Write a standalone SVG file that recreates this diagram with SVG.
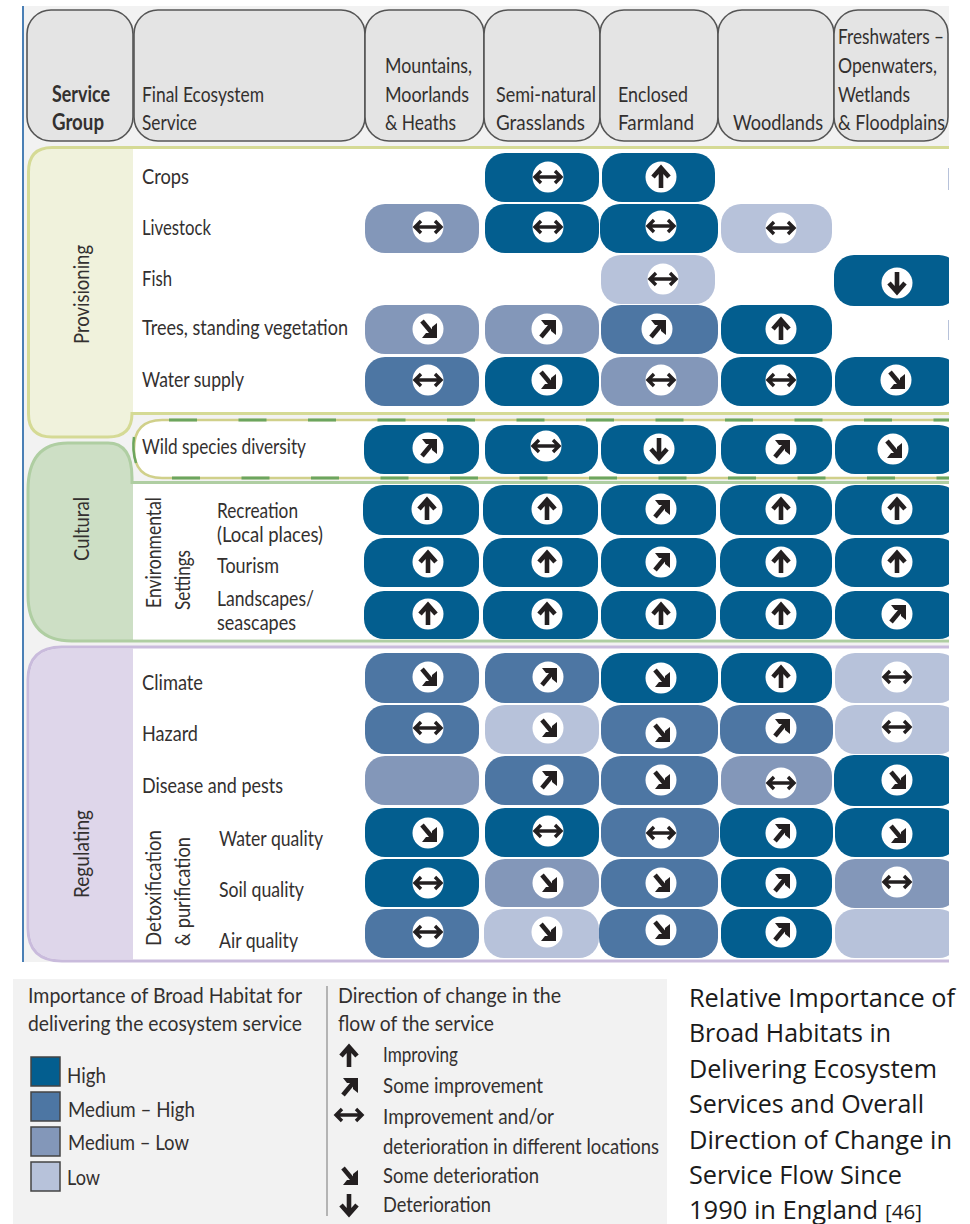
<svg xmlns="http://www.w3.org/2000/svg" width="970" height="1224" viewBox="0 0 970 1224">
<style>
text{font-family:"Lato","Liberation Sans",sans-serif;font-size:22px;fill:#33302f}
.b{font-weight:700}
.cap{font-family:"Open Sans","Noto Sans",sans-serif;font-size:25px;fill:#1a1a1a}
.hd{fill:#e4e4e4;stroke:#555;stroke-width:1.6}
.h{fill:#035e8f}.mh{fill:#4d76a3}.ml{fill:#8397b9}.l{fill:#b7c2da}
.ar{fill:none;stroke:#231f20;stroke-width:4.6}
.ar2{fill:none;stroke:#231f20;stroke-width:3.4}
.sw{stroke:#444;stroke-width:1.5}
</style>
<defs>
<g id="a-up"><path class="ar" d="M0 11V-8M-8 0L0-9L8 0"/></g>
<g id="a-dn"><path class="ar" d="M0-11V8M-8 0L0 9L8 0"/></g>
<g id="a-ne"><path class="ar" d="M-6 8L4-4"/><path d="M-6-9H9V6L4 2V-4H-2Z" fill="#231f20"/></g>
<g id="a-se"><path class="ar" d="M-6-8L4 4"/><path d="M-6 9H9V-6L4-2V4H-2Z" fill="#231f20"/></g>
<g id="a-lr"><path class="ar2" d="M-13 0H13M-7-6L-13 0L-7 6M7-6L13 0L7 6"/></g>
<g id="up"><circle r="15.5" fill="#fff"/><use href="#a-up"/></g>
<g id="dn"><circle r="15.5" fill="#fff"/><use href="#a-dn"/></g>
<g id="ne"><circle r="15.5" fill="#fff"/><use href="#a-ne"/></g>
<g id="se"><circle r="15.5" fill="#fff"/><use href="#a-se"/></g>
<g id="lr"><circle r="15.5" fill="#fff"/><use href="#a-lr"/></g>
<clipPath id="clip"><rect x="0" y="0" width="949" height="1224"/></clipPath>
</defs>
<rect width="970" height="1224" fill="#fff"/>
<rect x="23" y="6" width="926" height="956" fill="#f2f2f2"/>
<path d="M23 6V962" stroke="#4a7fb5" stroke-width="2" fill="none"/>

<g id="header">
<g id="hd-group"><rect class="hd" x="27" y="10" width="106" height="131" rx="24"/><text class="b" x="52" y="102" textLength="58" lengthAdjust="spacingAndGlyphs">Service</text><text class="b" x="52" y="130" textLength="52" lengthAdjust="spacingAndGlyphs">Group</text></g>
<g id="hd-service"><rect class="hd" x="134" y="10" width="231" height="131" rx="24"/><text x="142" y="102" textLength="122" lengthAdjust="spacingAndGlyphs">Final Ecosystem</text><text x="142" y="130" textLength="55" lengthAdjust="spacingAndGlyphs">Service</text></g>
<g id="hd-mountains"><rect class="hd" x="365" y="10" width="119" height="131" rx="24"/><text x="385" y="73" textLength="87" lengthAdjust="spacingAndGlyphs">Mountains,</text><text x="385" y="102" textLength="84" lengthAdjust="spacingAndGlyphs">Moorlands</text><text x="385" y="130" textLength="71" lengthAdjust="spacingAndGlyphs">&amp; Heaths</text></g>
<g id="hd-semi"><rect class="hd" x="484" y="10" width="116" height="131" rx="24"/><text x="496" y="102" textLength="100" lengthAdjust="spacingAndGlyphs">Semi-natural</text><text x="496" y="130" textLength="89" lengthAdjust="spacingAndGlyphs">Grasslands</text></g>
<g id="hd-enclosed"><rect class="hd" x="600" y="10" width="118" height="131" rx="24"/><text x="618" y="102" textLength="70" lengthAdjust="spacingAndGlyphs">Enclosed</text><text x="618" y="130" textLength="76" lengthAdjust="spacingAndGlyphs">Farmland</text></g>
<g id="hd-woodlands"><rect class="hd" x="718" y="10" width="116" height="131" rx="24"/><text x="733" y="130" textLength="90" lengthAdjust="spacingAndGlyphs">Woodlands</text></g>
<g id="hd-fresh"><rect class="hd" x="834" y="10" width="114" height="131" rx="24"/><text x="838" y="44" textLength="106" lengthAdjust="spacingAndGlyphs">Freshwaters –</text><text x="838" y="73" textLength="99" lengthAdjust="spacingAndGlyphs">Openwaters,</text><text x="838" y="102" textLength="72" lengthAdjust="spacingAndGlyphs">Wetlands</text><text x="838" y="130" textLength="107" lengthAdjust="spacingAndGlyphs">&amp; Floodplains</text></g>
</g>

<g id="band-provisioning">
<path d="M949 147.500H52Q28.500 147.500 28.500 172V414Q28.500 437 52 437H108Q132 437 132 413.500H949" fill="#f0f2dc" stroke="#d5da95" stroke-width="3"/>
<rect x="133" y="149" width="816" height="263" fill="#fff"/>
<text transform="translate(89 344) rotate(-90)" textLength="99" lengthAdjust="spacingAndGlyphs">Provisioning</text>
</g>
<g id="band-cultural">
<path d="M132 482V478Q132 443 108 443H68Q28 443 28 490V595Q28 641 72 641H949V482Z" fill="#cddfc5"/>
<path d="M949 641H72Q28 641 28 595V490Q28 443 68 443H108Q132 443 132 478V482.500H949" fill="none" stroke="#afcea2" stroke-width="3"/>
<rect x="133" y="484" width="816" height="155.500" fill="#fff"/>
<text transform="translate(89 561) rotate(-90)" textLength="64" lengthAdjust="spacingAndGlyphs">Cultural</text>
</g>
<g id="band-wild">
<path d="M949 420H162Q134 420 134 449Q134 478 162 478H949" fill="#fff" stroke="#d0d08a" stroke-width="2.500"/>
<path d="M134 437Q132 450 136 463" fill="none" stroke="#6ca55e" stroke-width="2.500"/>
<path d="M169 420H949" fill="none" stroke="#6ca55e" stroke-width="3" stroke-dasharray="28 41.500"/>
<path d="M172 478H949" fill="none" stroke="#6ca55e" stroke-width="3" stroke-dasharray="28 41.500"/>
</g>
<g id="band-regulating">
<path d="M949 647H62Q28 647 28 680V928Q28 961 62 961H949V647Z" fill="#fff"/>
<path d="M133 648.500H62Q29.500 648.500 29.500 680V928Q29.500 959.500 62 959.500H133Z" fill="#ded6ea"/>
<path d="M949 647H62Q28 647 28 680V928Q28 961 62 961H949" fill="none" stroke="#c9bbdc" stroke-width="3"/>
<text transform="translate(89 898) rotate(-90)" textLength="88" lengthAdjust="spacingAndGlyphs">Regulating</text>
</g>

<g id="row-labels" transform="translate(0 -1)">
<text x="142" y="185" textLength="47" lengthAdjust="spacingAndGlyphs">Crops</text>
<text x="142" y="236" textLength="69" lengthAdjust="spacingAndGlyphs">Livestock</text>
<text x="142" y="287" textLength="30" lengthAdjust="spacingAndGlyphs">Fish</text>
<text x="142" y="336" textLength="206" lengthAdjust="spacingAndGlyphs">Trees, standing vegetation</text>
<text x="142" y="388" textLength="102" lengthAdjust="spacingAndGlyphs">Water supply</text>
<text x="142" y="455" textLength="164" lengthAdjust="spacingAndGlyphs">Wild species diversity</text>
<text transform="translate(161 609) rotate(-90)" textLength="111" lengthAdjust="spacingAndGlyphs">Environmental</text>
<text transform="translate(190 611) rotate(-90)" textLength="60" lengthAdjust="spacingAndGlyphs">Settings</text>
<text x="217" y="519" textLength="81" lengthAdjust="spacingAndGlyphs">Recreation</text>
<text x="217" y="543" textLength="106" lengthAdjust="spacingAndGlyphs">(Local places)</text>
<text x="217" y="574" textLength="62" lengthAdjust="spacingAndGlyphs">Tourism</text>
<text x="217" y="607" textLength="97" lengthAdjust="spacingAndGlyphs">Landscapes/</text>
<text x="217" y="631" textLength="79" lengthAdjust="spacingAndGlyphs">seascapes</text>
<text x="142" y="691" textLength="61" lengthAdjust="spacingAndGlyphs">Climate</text>
<text x="142" y="742" textLength="56" lengthAdjust="spacingAndGlyphs">Hazard</text>
<text x="142" y="794" textLength="141" lengthAdjust="spacingAndGlyphs">Disease and pests</text>
<text transform="translate(161 947) rotate(-90)" textLength="116" lengthAdjust="spacingAndGlyphs">Detoxification</text>
<text transform="translate(190 947) rotate(-90)" textLength="109" lengthAdjust="spacingAndGlyphs">&amp; purification</text>
<text x="219" y="847" textLength="104" lengthAdjust="spacingAndGlyphs">Water quality</text>
<text x="219" y="898" textLength="85" lengthAdjust="spacingAndGlyphs">Soil quality</text>
<text x="219" y="949" textLength="79" lengthAdjust="spacingAndGlyphs">Air quality</text>
</g>

<g id="cells" clip-path="url(#clip)">
<g id="crops-semi"><rect class="h" x="485" y="153" width="114" height="49" rx="20"/><use href="#lr" x="548" y="177"/></g>
<g id="crops-encl"><rect class="h" x="602" y="153" width="113" height="49" rx="20"/><use href="#up" x="661" y="177"/></g>
<rect class="l" x="948" y="168" width="1" height="22"/>
<g id="live-mount"><rect class="ml" x="365" y="204" width="114" height="49" rx="20"/><use href="#lr" x="428" y="227"/></g>
<g id="live-semi"><rect class="h" x="485" y="204" width="114" height="49" rx="20"/><use href="#lr" x="548" y="227"/></g>
<g id="live-encl"><rect class="h" x="600" y="204" width="118" height="49" rx="20"/><use href="#lr" x="661" y="226"/></g>
<g id="live-wood"><rect class="l" x="721" y="204" width="111" height="49" rx="20"/><use href="#lr" x="781" y="228"/></g>
<g id="fish-encl"><rect class="l" x="601" y="255" width="114" height="49" rx="20"/><use href="#lr" x="663" y="279"/></g>
<g id="fish-fresh"><rect class="h" x="834" y="255" width="125" height="51" rx="20"/><use href="#dn" x="897" y="283"/></g>
<g id="trees-mount"><rect class="ml" x="365" y="305" width="114" height="49" rx="20"/><use href="#se" x="428" y="329"/></g>
<g id="trees-semi"><rect class="ml" x="485" y="305" width="114" height="49" rx="20"/><use href="#ne" x="547" y="329"/></g>
<g id="trees-encl"><rect class="mh" x="601" y="305" width="117" height="49" rx="20"/><use href="#ne" x="657" y="329"/></g>
<g id="trees-wood"><rect class="h" x="721" y="305" width="111" height="49" rx="20"/><use href="#up" x="781" y="329"/></g>
<rect class="l" x="948" y="320" width="1" height="20"/>
<g id="water-mount"><rect class="mh" x="365" y="357" width="114" height="49" rx="20"/><use href="#lr" x="428" y="380"/></g>
<g id="water-semi"><rect class="h" x="485" y="357" width="114" height="49" rx="20"/><use href="#se" x="547" y="380"/></g>
<g id="water-encl"><rect class="ml" x="601" y="357" width="117" height="49" rx="20"/><use href="#lr" x="661" y="380"/></g>
<g id="water-wood"><rect class="h" x="721" y="357" width="111" height="49" rx="20"/><use href="#lr" x="781" y="380"/></g>
<g id="water-fresh"><rect class="h" x="835" y="357" width="124" height="49" rx="20"/><use href="#se" x="896" y="380"/></g>
<g id="wild-mount"><rect class="h" x="364" y="425" width="115" height="49" rx="20"/><use href="#ne" x="428" y="448"/></g>
<g id="wild-semi"><rect class="h" x="485" y="425" width="113" height="49" rx="20"/><use href="#lr" x="546" y="446"/></g>
<g id="wild-encl"><rect class="h" x="601" y="425" width="115" height="49" rx="20"/><use href="#dn" x="659" y="449"/></g>
<g id="wild-wood"><rect class="h" x="721" y="425" width="111" height="49" rx="20"/><use href="#ne" x="781" y="449"/></g>
<g id="wild-fresh"><rect class="h" x="835" y="425" width="124" height="49" rx="20"/><use href="#se" x="893" y="449"/></g>
<g id="rec-mount"><rect class="h" x="363" y="485" width="116" height="50" rx="20"/><use href="#up" x="427" y="509"/></g>
<g id="rec-semi"><rect class="h" x="483" y="485" width="115" height="50" rx="20"/><use href="#up" x="547" y="509"/></g>
<g id="rec-encl"><rect class="h" x="601" y="485" width="115" height="50" rx="20"/><use href="#ne" x="661" y="509"/></g>
<g id="rec-wood"><rect class="h" x="720" y="485" width="112" height="50" rx="20"/><use href="#up" x="781" y="509"/></g>
<g id="rec-fresh"><rect class="h" x="835" y="485" width="124" height="50" rx="20"/><use href="#up" x="897" y="509"/></g>
<g id="tour-mount"><rect class="h" x="364" y="538" width="115" height="49" rx="20"/><use href="#up" x="428" y="562"/></g>
<g id="tour-semi"><rect class="h" x="483" y="538" width="115" height="49" rx="20"/><use href="#up" x="547" y="562"/></g>
<g id="tour-encl"><rect class="h" x="601" y="538" width="115" height="49" rx="20"/><use href="#ne" x="661" y="562"/></g>
<g id="tour-wood"><rect class="h" x="720" y="538" width="112" height="49" rx="20"/><use href="#up" x="781" y="562"/></g>
<g id="tour-fresh"><rect class="h" x="835" y="538" width="124" height="49" rx="20"/><use href="#up" x="897" y="562"/></g>
<g id="land-mount"><rect class="h" x="364" y="591" width="115" height="48" rx="20"/><use href="#up" x="428" y="614"/></g>
<g id="land-semi"><rect class="h" x="483" y="591" width="115" height="48" rx="20"/><use href="#up" x="547" y="614"/></g>
<g id="land-encl"><rect class="h" x="601" y="591" width="115" height="48" rx="20"/><use href="#up" x="661" y="614"/></g>
<g id="land-wood"><rect class="h" x="720" y="591" width="112" height="48" rx="20"/><use href="#up" x="781" y="614"/></g>
<g id="land-fresh"><rect class="h" x="835" y="591" width="124" height="48" rx="20"/><use href="#ne" x="897" y="614"/></g>
<g id="clim-mount"><rect class="mh" x="365" y="653" width="114" height="50" rx="20"/><use href="#se" x="428" y="677"/></g>
<g id="clim-semi"><rect class="mh" x="485" y="653" width="114" height="50" rx="20"/><use href="#ne" x="548" y="677"/></g>
<g id="clim-encl"><rect class="h" x="601" y="653" width="117" height="50" rx="20"/><use href="#se" x="661" y="678"/></g>
<g id="clim-wood"><rect class="h" x="721" y="653" width="111" height="50" rx="20"/><use href="#up" x="781" y="677"/></g>
<g id="clim-fresh"><rect class="l" x="835" y="653" width="124" height="50" rx="20"/><use href="#lr" x="897" y="677"/></g>
<g id="haz-mount"><rect class="mh" x="365" y="705" width="114" height="49" rx="20"/><use href="#lr" x="428" y="728"/></g>
<g id="haz-semi"><rect class="l" x="485" y="705" width="114" height="49" rx="20"/><use href="#se" x="548" y="728"/></g>
<g id="haz-encl"><rect class="mh" x="601" y="705" width="117" height="49" rx="20"/><use href="#se" x="661" y="733"/></g>
<g id="haz-wood"><rect class="mh" x="720" y="705" width="113" height="49" rx="20"/><use href="#ne" x="781" y="728"/></g>
<g id="haz-fresh"><rect class="l" x="835" y="705" width="124" height="49" rx="20"/><use href="#lr" x="897" y="727"/></g>
<g id="dis-mount"><rect class="ml" x="365" y="756" width="114" height="49" rx="20"/></g>
<g id="dis-semi"><rect class="mh" x="485" y="756" width="114" height="49" rx="20"/><use href="#ne" x="548" y="780"/></g>
<g id="dis-encl"><rect class="mh" x="601" y="756" width="117" height="49" rx="20"/><use href="#se" x="661" y="780"/></g>
<g id="dis-wood"><rect class="ml" x="721" y="756" width="111" height="49" rx="20"/><use href="#lr" x="781" y="783"/></g>
<g id="dis-fresh"><rect class="h" x="834" y="755" width="125" height="51" rx="20"/><use href="#se" x="897" y="780"/></g>
<g id="wq-mount"><rect class="h" x="365" y="808" width="114" height="49" rx="20"/><use href="#se" x="428" y="833"/></g>
<g id="wq-semi"><rect class="h" x="485" y="808" width="114" height="49" rx="20"/><use href="#lr" x="548" y="831"/></g>
<g id="wq-encl"><rect class="mh" x="601" y="808" width="118" height="49" rx="20"/><use href="#lr" x="661" y="833"/></g>
<g id="wq-wood"><rect class="h" x="720" y="808" width="113" height="49" rx="20"/><use href="#ne" x="781" y="833"/></g>
<g id="wq-fresh"><rect class="h" x="835" y="808" width="124" height="49" rx="20"/><use href="#se" x="897" y="834"/></g>
<g id="sq-mount"><rect class="h" x="365" y="859" width="114" height="48" rx="20"/><use href="#lr" x="428" y="883"/></g>
<g id="sq-semi"><rect class="ml" x="485" y="859" width="114" height="48" rx="20"/><use href="#se" x="548" y="883"/></g>
<g id="sq-encl"><rect class="mh" x="601" y="859" width="117" height="48" rx="20"/><use href="#se" x="661" y="883"/></g>
<g id="sq-wood"><rect class="h" x="721" y="859" width="111" height="48" rx="20"/><use href="#ne" x="781" y="883"/></g>
<g id="sq-fresh"><rect class="ml" x="835" y="859" width="124" height="49" rx="20"/><use href="#lr" x="897" y="882"/></g>
<g id="aq-mount"><rect class="mh" x="365" y="909" width="114" height="49" rx="20"/><use href="#lr" x="428" y="932"/></g>
<g id="aq-semi"><rect class="l" x="484" y="909" width="115" height="49" rx="20"/><use href="#se" x="547" y="932"/></g>
<g id="aq-encl"><rect class="mh" x="599" y="909" width="119" height="49" rx="20"/><use href="#se" x="661" y="930"/></g>
<g id="aq-wood"><rect class="h" x="721" y="909" width="111" height="49" rx="20"/><use href="#ne" x="781" y="932"/></g>
<g id="aq-fresh"><rect class="l" x="835" y="909" width="124" height="49" rx="20"/></g>
</g>

<g id="legend">
<rect x="13" y="979" width="654" height="245" fill="#f2f2f2"/>
<text x="28" y="1003" textLength="274" lengthAdjust="spacingAndGlyphs">Importance of Broad Habitat for</text>
<text x="28" y="1031" textLength="274" lengthAdjust="spacingAndGlyphs">delivering the ecosystem service</text>
<rect class="sw h" x="31" y="1057" width="29" height="29"/>
<rect class="sw mh" x="31" y="1092" width="29" height="29"/>
<rect class="sw ml" x="31" y="1127" width="29" height="29"/>
<rect class="sw l" x="31" y="1162" width="29" height="29"/>
<text x="67" y="1083" textLength="39" lengthAdjust="spacingAndGlyphs">High</text>
<text x="68" y="1117" textLength="127" lengthAdjust="spacingAndGlyphs">Medium – High</text>
<text x="68" y="1150" textLength="121" lengthAdjust="spacingAndGlyphs">Medium – Low</text>
<text x="67" y="1185" textLength="33" lengthAdjust="spacingAndGlyphs">Low</text>
<path d="M327 986V1216" stroke="#777" stroke-width="1" fill="none"/>
<text x="338" y="1003" textLength="223" lengthAdjust="spacingAndGlyphs">Direction of change in the</text>
<text x="338" y="1031" textLength="156" lengthAdjust="spacingAndGlyphs">flow of the service</text>
<use href="#a-up" x="349" y="1056"/>
<use href="#a-ne" x="349" y="1087"/>
<use href="#a-lr" x="349" y="1115"/>
<use href="#a-se" x="349" y="1176"/>
<use href="#a-dn" x="349" y="1205"/>
<text x="383" y="1062" textLength="75" lengthAdjust="spacingAndGlyphs">Improving</text>
<text x="383" y="1093" textLength="160" lengthAdjust="spacingAndGlyphs">Some improvement</text>
<text x="383" y="1124" textLength="171" lengthAdjust="spacingAndGlyphs">Improvement and/or</text>
<text x="383" y="1154" textLength="276" lengthAdjust="spacingAndGlyphs">deterioration in different locations</text>
<text x="383" y="1183" textLength="156" lengthAdjust="spacingAndGlyphs">Some deterioration</text>
<text x="383" y="1212" textLength="108" lengthAdjust="spacingAndGlyphs">Deterioration</text>
</g>

<g id="caption">
<text class="cap" x="689" y="1007" textLength="266" lengthAdjust="spacingAndGlyphs">Relative Importance of</text>
<text class="cap" x="689" y="1042" textLength="202" lengthAdjust="spacingAndGlyphs">Broad Habitats in</text>
<text class="cap" x="689" y="1078" textLength="248" lengthAdjust="spacingAndGlyphs">Delivering Ecosystem</text>
<text class="cap" x="689" y="1113" textLength="235" lengthAdjust="spacingAndGlyphs">Services and Overall</text>
<text class="cap" x="689" y="1149" textLength="263" lengthAdjust="spacingAndGlyphs">Direction of Change in</text>
<text class="cap" x="689" y="1184" textLength="213" lengthAdjust="spacingAndGlyphs">Service Flow Since</text>
<text class="cap" x="689" y="1219" textLength="189" lengthAdjust="spacingAndGlyphs">1990 in England</text>
<text class="cap" x="885" y="1219" style="font-size:20px" textLength="37" lengthAdjust="spacingAndGlyphs">[46]</text>
</g>
</svg>
